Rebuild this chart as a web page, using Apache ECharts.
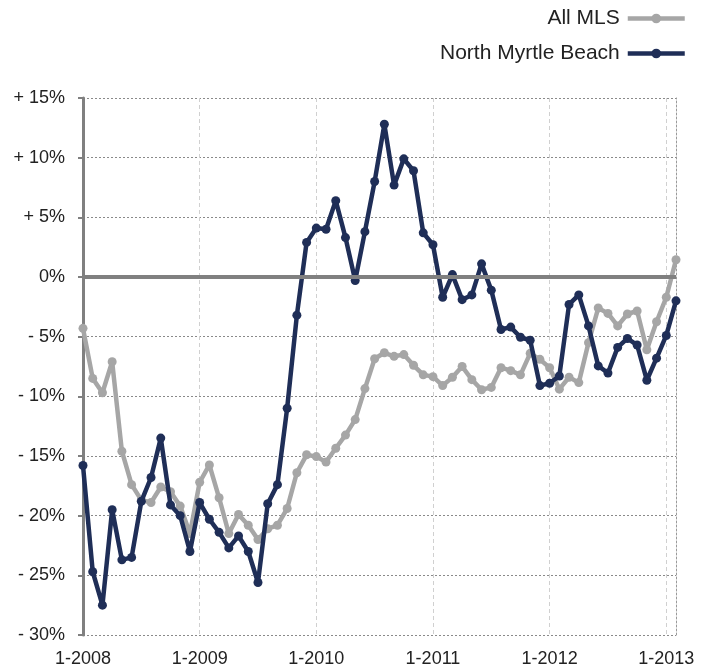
<!DOCTYPE html>
<html>
<head>
<meta charset="utf-8">
<script src="https://cdn.jsdelivr.net/npm/echarts@6/dist/echarts.min.js"></script>
<style>
  html, body { margin: 0; padding: 0; background: #fff; }
  #chart { width: 711px; height: 668px; }
</style>
</head>
<body>
<div id="chart"></div>
<script>
// months Jan 2008 .. Feb 2013
var years = [2008, 2009, 2010, 2011, 2012, 2013];
var months = [];
years.forEach(function (y) {
  var last = y === 2013 ? 2 : 12;
  for (var m = 1; m <= last; m++) months.push(m + "-" + y);
});

var allMls = [
  -4.3, -8.5, -9.7, -7.1, -14.6, -17.4, -18.7, -18.9, -17.6, -18.0, -19.2, -21.5,
  -17.2, -15.75, -18.5, -21.5, -19.9, -20.8, -22.0, -21.1, -20.8, -19.4, -16.4, -14.9,
  -15.05, -15.5, -14.35, -13.25, -11.95, -9.35, -6.85, -6.35, -6.65, -6.5, -7.4, -8.2,
  -8.35, -9.1, -8.4, -7.5, -8.6, -9.45, -9.25, -7.6, -7.85, -8.2, -6.4, -6.9,
  -7.6, -9.4, -8.4, -8.85, -5.5, -2.6, -3.05, -4.1, -3.1, -2.85, -6.1, -3.75,
  -1.7, 1.45
];

var northMyrtle = [
  -15.8, -24.7, -27.5, -19.5, -23.7, -23.5, -18.8, -16.8, -13.5, -19.1, -20.0, -23.0,
  -18.9, -20.3, -21.4, -22.7, -21.7, -23.0, -25.6, -19.0, -17.4, -11.0, -3.2, 2.9,
  4.1, 4.0, 6.4, 3.3, -0.3, 3.8, 8.0, 12.8, 7.7, 9.9, 8.9, 3.7,
  2.7, -1.7, 0.2, -1.9, -1.5, 1.1, -1.1, -4.4, -4.2, -5.05, -5.3, -9.1,
  -8.9, -8.3, -2.3, -1.5, -4.1, -7.45, -8.05, -5.9, -5.15, -5.7, -8.65, -6.8,
  -4.9, -2.0
];

var yMin = -30, yMax = 15, yStep = 5;

var font = "'Liberation Sans', Arial, sans-serif";

var myChart = echarts.init(document.getElementById("chart"));
var option = {
  animation: false,
  backgroundColor: "#fff",
  textStyle: { fontFamily: font },
  legend: {
    orient: "vertical",
    right: 19,
    top: 3,
    align: "right",
    itemWidth: 57,
    itemHeight: 12,
    itemGap: 14,
    lineStyle: { width: 4.5 },
    textStyle: { fontSize: 21, color: "#222", fontFamily: font, padding: [0, 3, 0, 0] },
    data: ["All MLS", "North Myrtle Beach"]
  },
  grid: { left: 83, right: 35, top: 98, bottom: 32 },
  xAxis: {
    type: "category",
    data: months,
    boundaryGap: false,
    axisLine: { show: false, onZero: false },
    axisTick: { show: false },
    axisLabel: {
      interval: 11,
      margin: 15,
      fontSize: 18,
      color: "#222",
      fontFamily: font
    },
    splitLine: {
      show: true,
      interval: 11,
      lineStyle: { color: "#d0d0d0", type: [4, 3], width: 1 }
    }
  },
  yAxis: [
    {
      type: "value",
      min: yMin,
      max: yMax,
      interval: yStep,
      axisLine: { show: true, lineStyle: { color: "#808080", width: 3 } },
      axisTick: { show: true, inside: false, length: 5, lineStyle: { color: "#808080", width: 2 } },
      axisLabel: {
        margin: 18,
        fontSize: 18,
        color: "#222",
        fontFamily: font,
        formatter: function (v) {
          if (v > 0) return "+ " + v + "%";
          if (v < 0) return "- " + Math.abs(v) + "%";
          return "0%";
        }
      },
      splitLine: { show: true, lineStyle: { color: "#8a8a8a", type: [2, 2], width: 1 } }
    },
    {
      type: "value",
      position: "right",
      min: yMin,
      max: yMax,
      interval: yStep,
      axisLine: { show: true, lineStyle: { color: "#9a9a9a", type: [2, 2], width: 1 } },
      axisTick: { show: false },
      axisLabel: { show: false },
      splitLine: { show: false }
    }
  ],
  series: [
    {
      name: "All MLS",
      type: "line",
      data: allMls,
      symbol: "circle",
      symbolSize: 9,
      showSymbol: true,
      showAllSymbol: true,
      color: "#a6a6a6",
      lineStyle: { width: 4.5, color: "#a6a6a6" },
      itemStyle: { color: "#a6a6a6" },
      z: 2,
      markLine: {
        silent: true,
        symbol: "none",
        label: { show: false },
        lineStyle: { color: "#808080", width: 4, type: "solid" },
        data: [{ yAxis: 0 }]
      }
    },
    {
      name: "North Myrtle Beach",
      type: "line",
      data: northMyrtle,
      symbol: "circle",
      symbolSize: 9,
      showSymbol: true,
      showAllSymbol: true,
      color: "#1f2e57",
      lineStyle: { width: 4.5, color: "#1f2e57" },
      itemStyle: { color: "#1f2e57" },
      z: 3
    }
  ]
};
myChart.setOption(option);
</script>
</body>
</html>
